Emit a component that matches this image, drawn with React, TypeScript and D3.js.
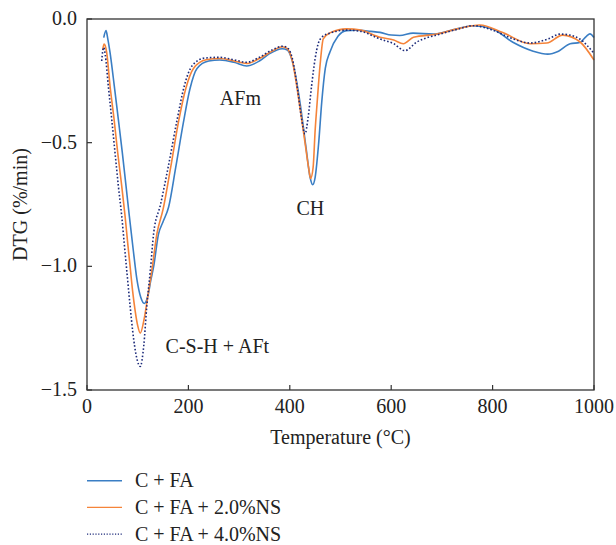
import React from "react";
import * as d3 from "d3";

const xTicks = [0, 200, 400, 600, 800, 1000];
const yTicks = [0, -0.5, -1.0, -1.5];
const seriesNames = ["C + FA", "C + FA + 2.0%NS", "C + FA + 4.0%NS"];

const tempFA = [33, 37.5, 41, 45.4, 53.8, 61.7, 69.6, 76.9, 83.4, 91, 98.6, 106, 113, 120, 126, 131.5, 141, 150, 161, 175, 190, 203, 217, 240, 262, 290, 315, 340, 360, 385, 395, 405, 420, 432, 440, 445, 450, 457, 463, 470, 479, 495, 512, 530, 560, 578, 600, 617, 643, 683, 720, 761, 800, 840, 880, 909, 930, 953, 972, 985, 992, 1000];
const dtgFA = [-0.075, -0.047, -0.08, -0.135, -0.27, -0.404, -0.539, -0.674, -0.795, -0.93, -1.055, -1.125, -1.15, -1.12, -1.055, -1.0, -0.87, -0.82, -0.76, -0.6, -0.42, -0.283, -0.2, -0.17, -0.166, -0.175, -0.19, -0.17, -0.14, -0.12, -0.125, -0.17, -0.336, -0.52, -0.64, -0.67, -0.64, -0.5, -0.336, -0.2, -0.134, -0.07, -0.047, -0.045, -0.05, -0.054, -0.065, -0.067, -0.057, -0.061, -0.045, -0.027, -0.04, -0.094, -0.13, -0.142, -0.13, -0.1, -0.095, -0.07, -0.06, -0.075];

const tempNS2 = [31, 33.5, 36, 38.8, 45.4, 53.3, 60.5, 68.4, 75, 80, 85, 90, 95, 100, 105, 113, 120, 128, 138, 150, 165, 181, 195, 210, 235, 262, 290, 315, 340, 365, 385, 395, 405, 418, 430, 437, 441, 446, 450, 454, 460, 466, 480, 512, 540, 578, 605, 624, 644, 690, 730, 775, 820, 874, 907, 938, 972, 1000];
const dtgNS2 = [-0.125, -0.101, -0.108, -0.135, -0.27, -0.404, -0.539, -0.674, -0.795, -0.9, -1.0, -1.1, -1.18, -1.24, -1.27, -1.21, -1.12, -1.015, -0.867, -0.77, -0.6, -0.41, -0.28, -0.2, -0.165, -0.16, -0.17, -0.18, -0.16, -0.13, -0.112, -0.12, -0.17, -0.33, -0.5, -0.6, -0.645, -0.6, -0.45, -0.336, -0.18, -0.08, -0.055, -0.04, -0.045, -0.074, -0.085, -0.1, -0.074, -0.061, -0.04, -0.024, -0.055, -0.1, -0.097, -0.065, -0.092, -0.166];

const tempNS4 = [29, 31, 33, 36, 42, 48.7, 55.2, 61.8, 68.4, 74, 79, 85, 90, 98, 105, 112, 118, 125, 131.5, 145, 160, 177.5, 192, 207, 232, 262, 290, 315, 340, 365, 387, 397, 405, 415, 423, 430, 436, 443, 450, 456, 465, 479, 512, 540, 578, 605, 627, 650, 696, 730, 762, 800, 840, 874, 910, 933, 952, 972, 1000];
const dtgNS4 = [-0.17, -0.13, -0.115, -0.145, -0.27, -0.404, -0.539, -0.674, -0.795, -0.92, -1.03, -1.16, -1.26, -1.37, -1.405, -1.32, -1.16, -1.015, -0.866, -0.75, -0.6, -0.41, -0.27, -0.19, -0.158, -0.155, -0.165, -0.175, -0.155, -0.125, -0.11, -0.12, -0.16, -0.28, -0.4, -0.465, -0.4, -0.27, -0.16, -0.1, -0.07, -0.057, -0.045, -0.05, -0.081, -0.1, -0.128, -0.094, -0.061, -0.042, -0.027, -0.045, -0.08, -0.097, -0.08, -0.061, -0.065, -0.081, -0.139];

const annotationTexts = ["AFm", "CH", "C-S-H + AFt"];
const annotationT = [262, 413, 155];
const annotationV = [-0.348, -0.793, -1.35];

const W = 616;
const H = 545;
const M = { left: 87, right: 594, top: 19, bottom: 390 };
const FONT = "'Liberation Serif', 'Times New Roman', serif";
const AXIS = "#333";

export default function App() {
  const x = d3.scaleLinear().domain([0, 1000]).range([M.left, M.right]);
  const y = d3.scaleLinear().domain([-1.5, 0]).range([M.bottom, M.top]);

  const mk = (ts: number[], vs: number[]) =>
    d3
      .line<number>()
      .x((_, i) => x(ts[i]))
      .y((v) => y(v))
      .curve(d3.curveMonotoneX)(vs) as string;

  const series = [
    { name: seriesNames[0], d: mk(tempFA, dtgFA), color: "#3a7ec4", dash: undefined as string | undefined },
    { name: seriesNames[1], d: mk(tempNS2, dtgNS2), color: "#f5843a", dash: undefined as string | undefined },
    { name: seriesNames[2], d: mk(tempNS4, dtgNS4), color: "#1c2a7a", dash: "1.6,2" },
  ];

  const fmtY = (v: number) => (v === 0 ? "0.0" : "\u2212" + Math.abs(v).toFixed(1));

  return (
    <svg width={W} height={H} style={{ display: "block", position: "absolute", left: 0, top: 0 }} fontFamily={FONT}>
      <rect x={0} y={0} width={W} height={H} fill="#fff" />
      {series.map((s) => (
        <path key={s.name} d={s.d} fill="none" stroke={s.color} strokeWidth={1.6} strokeDasharray={s.dash} strokeLinejoin="round" />
      ))}
      <rect x={M.left} y={M.top} width={M.right - M.left} height={M.bottom - M.top} fill="none" stroke={AXIS} strokeWidth={1.3} />
      {xTicks.map((t) => (
        <g key={"x" + t}>
          <line x1={x(t)} x2={x(t)} y1={M.bottom} y2={M.bottom - 5} stroke={AXIS} strokeWidth={1.2} />
          <text x={x(t)} y={413} fontSize={20} textAnchor="middle" fill="#222">
            {t}
          </text>
        </g>
      ))}
      {yTicks.map((t) => (
        <g key={"y" + t}>
          <line x1={M.left} x2={M.left + 5} y1={y(t)} y2={y(t)} stroke={AXIS} strokeWidth={1.2} />
          <text x={77} y={y(t) + 6} fontSize={20} textAnchor="end" fill="#222">
            {fmtY(t)}
          </text>
        </g>
      ))}
      <text x={(M.left + M.right) / 2} y={444} fontSize={20} textAnchor="middle" fill="#222">
        Temperature (°C)
      </text>
      <text transform={`translate(27, ${(M.top + M.bottom) / 2}) rotate(-90)`} fontSize={20} textAnchor="middle" fill="#222">
        DTG (%/min)
      </text>
      {annotationTexts.map((a, i) => (
        <text key={a} x={x(annotationT[i])} y={y(annotationV[i])} fontSize={20} textAnchor="start" fill="#222">
          {a}
        </text>
      ))}
      {series.map((s, i) => {
        const ly = 480.7 + i * 26.7;
        return (
          <g key={"lg" + i}>
            <line x1={87} x2={122} y1={ly} y2={ly} stroke={s.color} strokeWidth={1.4} strokeDasharray={s.dash ? "1.2,1.6" : undefined} />
            <text x={135} y={ly + 6.5} fontSize={20} fill="#222">
              {s.name}
            </text>
          </g>
        );
      })}
    </svg>
  );
}
